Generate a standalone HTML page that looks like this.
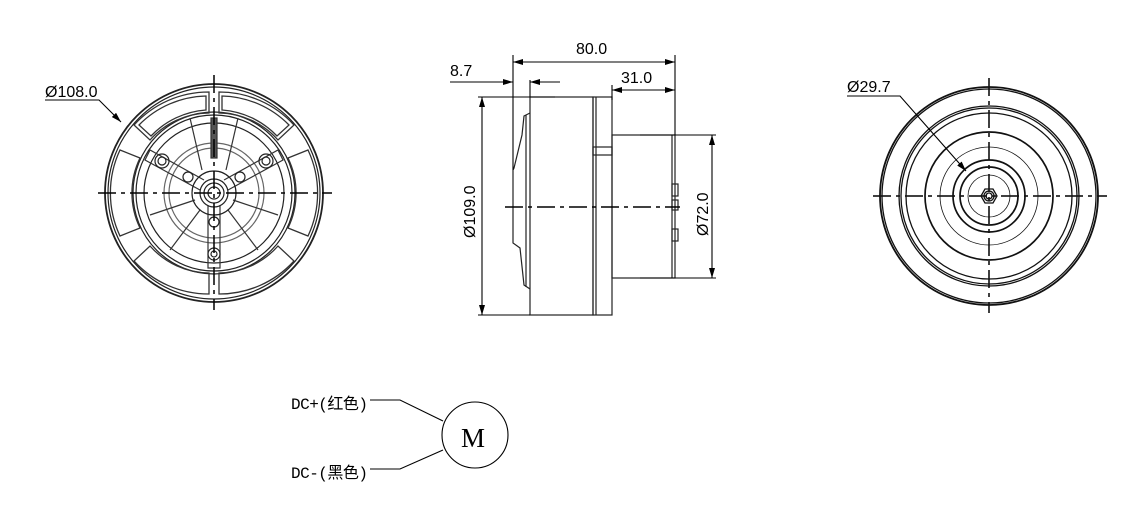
<!DOCTYPE html>
<html><head><meta charset="utf-8"><style>
html,body{margin:0;padding:0;background:#fff;}
svg{display:block;}
text{font-family:"Liberation Sans",sans-serif;fill:#000;}
</style></head><body>
<svg width="1145" height="525" viewBox="0 0 1145 525" xmlns="http://www.w3.org/2000/svg">
<defs>
<marker id="a" viewBox="0 0 10 6" refX="10" refY="3" markerWidth="10" markerHeight="6" orient="auto-start-reverse" markerUnits="userSpaceOnUse"><path d="M0,0 L10,3 L0,6 z" fill="#000"/></marker>
</defs>
<g fill="none" stroke="#222" stroke-width="1.2">
<!-- LEFT VIEW -->
<circle cx="214" cy="193" r="109" stroke-width="1.8"/>
<circle cx="214" cy="193" r="106"/>
<circle cx="214" cy="193" r="81"/>
<circle cx="214" cy="193" r="78"/>
<circle cx="214" cy="193" r="70"/>
<circle cx="214" cy="193" r="50" stroke="#666"/>
<circle cx="214" cy="193" r="45" stroke="#666"/>
<g stroke="#333" stroke-width="1.3">
<path d="M209,92 A101,101 0 0 0 134,125 L150,140 A80,80 0 0 1 209,113 Z"/>
<path d="M206,96 A97,97 0 0 0 139,125 L151,136 A84,84 0 0 1 206,110 Z"/>
<path d="M219,92 A101,101 0 0 1 294,125 L278,140 A80,80 0 0 0 219,113 Z"/>
<path d="M222,96 A97,97 0 0 1 289,125 L277,136 A84,84 0 0 0 222,110 Z"/>
<path d="M209,294 A101,101 0 0 1 134,261 L150,246 A80,80 0 0 0 209,273 Z"/>
<path d="M219,294 A101,101 0 0 0 294,261 L278,246 A80,80 0 0 1 219,273 Z"/>
<path d="M120,150 A101,101 0 0 0 120,236 L140,228 A80,80 0 0 1 140,158 Z"/>
<path d="M308,150 A101,101 0 0 1 308,236 L288,228 A80,80 0 0 0 288,158 Z"/>
</g>
<g stroke="#333">
<path d="M204,180 L150,150 L145,160 L200,190"/>
<path d="M224,180 L278,150 L283,160 L228,190"/>
<path d="M208,205 L208,268 L220,268 L220,205"/>
<line x1="190" y1="118" x2="202" y2="170"/><line x1="238" y1="118" x2="226" y2="170"/>
<line x1="150" y1="215" x2="195" y2="200"/><line x1="278" y1="215" x2="233" y2="200"/>
<line x1="170" y1="250" x2="200" y2="210"/><line x1="258" y1="250" x2="228" y2="210"/>
<rect x="211" y="118" width="6" height="40" fill="#555"/>
</g>
<circle cx="214" cy="193" r="22"/>
<circle cx="214" cy="193" r="14"/>
<circle cx="214" cy="193" r="10"/>
<circle cx="214" cy="193" r="6"/>
<circle cx="162" cy="161" r="7"/><circle cx="162" cy="161" r="4"/>
<circle cx="266" cy="161" r="7"/><circle cx="266" cy="161" r="4"/>
<circle cx="188" cy="177" r="5"/><circle cx="240" cy="177" r="5"/>
<circle cx="214" cy="222" r="5"/><circle cx="214" cy="254" r="6"/><circle cx="214" cy="254" r="3"/>
<!-- MIDDLE VIEW -->
<g stroke="#222">
<rect x="530" y="97" width="63" height="218"/>
<rect x="593" y="97" width="19" height="218"/>
<line x1="596" y1="97" x2="596" y2="315"/>
<rect x="612" y="135" width="63" height="143"/>
<line x1="672" y1="135" x2="672" y2="278"/>
<rect x="593" y="147" width="19" height="8"/>
<path d="M530,113 L524,116 L522,135 L514,168 L513,170 L513,243 L520,248 L524,285 L530,289"/>
<line x1="526" y1="115" x2="526" y2="287"/>
<rect x="672" y="184" width="6" height="12"/><rect x="672" y="200" width="6" height="10"/><rect x="672" y="229" width="6" height="12"/>
</g>
</g>
<g stroke="#000" stroke-width="1.5" stroke-dasharray="18,5,4,5" fill="none">
<line x1="98" y1="193" x2="332" y2="193"/>
<line x1="214" y1="75" x2="214" y2="310"/>
<line x1="505" y1="207" x2="680" y2="207"/>
<line x1="873" y1="196" x2="1107" y2="196"/>
<line x1="989" y1="78" x2="989" y2="313"/>
</g>
<!-- RIGHT VIEW -->
<g fill="none" stroke="#111" stroke-width="1.3">
<circle cx="989" cy="196" r="109" stroke-width="1.8"/>
<circle cx="989" cy="196" r="107"/>
<circle cx="989" cy="196" r="90"/>
<circle cx="989" cy="196" r="88"/>
<circle cx="989" cy="196" r="83"/>
<circle cx="989" cy="196" r="64" stroke-width="1.7"/>
<circle cx="989" cy="196" r="49" stroke-width="0.8"/>
<circle cx="989" cy="196" r="36" stroke-width="1.7"/>
<circle cx="989" cy="196" r="29" stroke-width="1.7"/>
<circle cx="989" cy="196" r="21" stroke-width="0.8"/>
<polygon points="981,196 985,189 993,189 997,196 993,203 985,203"/>
<circle cx="989" cy="196" r="5"/>
<circle cx="989" cy="196" r="3"/>
</g>
<g stroke="#000" stroke-width="1.1" fill="none">
<line x1="513" y1="55" x2="513" y2="170"/>
<line x1="675" y1="55" x2="675" y2="135"/>
<line x1="513" y1="62" x2="675" y2="62" marker-start="url(#a)" marker-end="url(#a)"/>
<line x1="612" y1="85" x2="612" y2="100"/>
<line x1="612" y1="90" x2="675" y2="90" marker-start="url(#a)" marker-end="url(#a)"/>
<line x1="450" y1="82" x2="513" y2="82" marker-end="url(#a)"/>
<line x1="560" y1="82" x2="530" y2="82" marker-end="url(#a)"/>
<line x1="530" y1="80" x2="530" y2="97"/>
<line x1="478" y1="97" x2="555" y2="97"/>
<line x1="478" y1="315" x2="530" y2="315"/>
<line x1="482" y1="97" x2="482" y2="315" marker-start="url(#a)" marker-end="url(#a)"/>
<line x1="640" y1="135" x2="716" y2="135"/>
<line x1="640" y1="278" x2="716" y2="278"/>
<line x1="712" y1="135" x2="712" y2="278" marker-start="url(#a)" marker-end="url(#a)"/>
<polyline points="45,100 99,100 121,122" marker-end="url(#a)"/>
<polyline points="847,96 900,96 966,171" marker-end="url(#a)"/>
<circle cx="475" cy="435" r="33"/>
<polyline points="370,400 400,400 443,421"/>
<polyline points="370,469 400,469 443,450"/>
</g>
<text x="45" y="97" font-size="16">Ø108.0</text>
<text x="847" y="92" font-size="16">Ø29.7</text>
<text x="576" y="54" font-size="16">80.0</text>
<text x="621" y="83" font-size="16">31.0</text>
<text x="450" y="76" font-size="16">8.7</text>
<text transform="translate(475,238) rotate(-90)" font-size="16">Ø109.0</text>
<text transform="translate(708,236) rotate(-90)" font-size="16">Ø72.0</text>
<text x="461" y="447" font-size="27" style="font-family:'Liberation Serif',serif">M</text>
<text x="291" y="409" font-size="16" style="font-family:'Liberation Mono','Noto Sans CJK SC',monospace" textLength="77">DC+(红色)</text>
<text x="291" y="478" font-size="16" style="font-family:'Liberation Mono','Noto Sans CJK SC',monospace" textLength="77">DC-(黑色)</text>
</svg>
</body></html>
